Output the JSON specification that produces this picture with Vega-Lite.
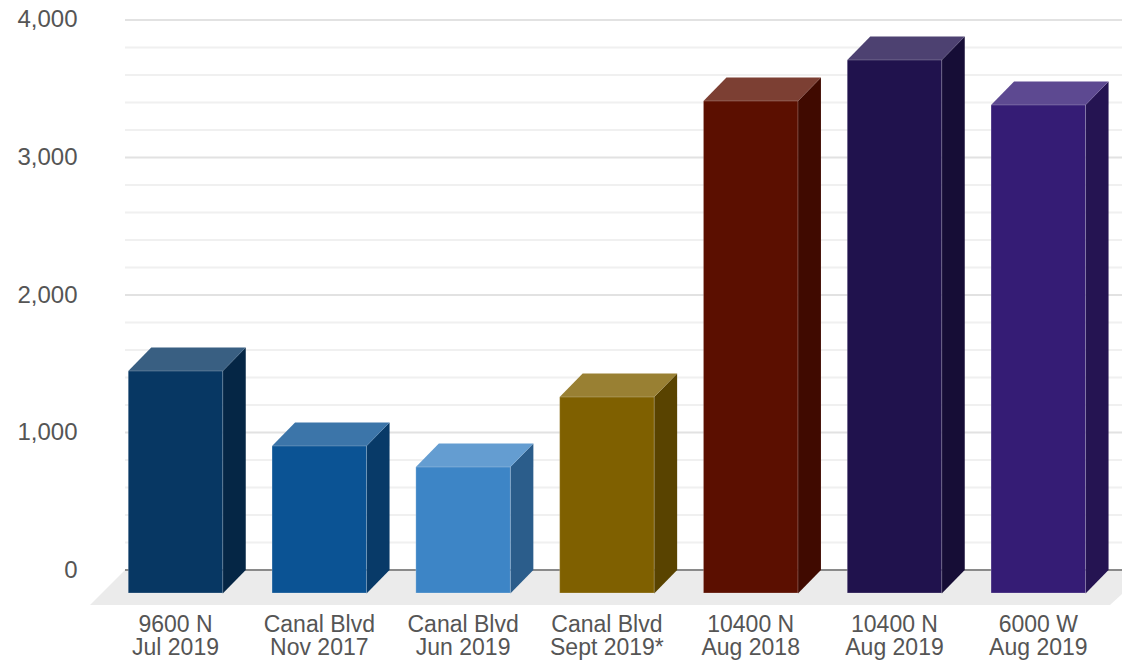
{
  "$schema": "https://vega.github.io/schema/vega-lite/v6.json",
  "width": 997,
  "height": 605,
  "autosize": {"type": "none"},
  "padding": {"left": 125, "top": 0, "right": 0, "bottom": 60},
  "background": "#ffffff",
  "config": {"view": {"stroke": null}, "font": "Liberation Sans"},
  "datasets": {
    "bars": [
      {"label": "9600 N|Jul 2019", "value": 1447},
      {"label": "Canal Blvd|Nov 2017", "value": 902},
      {"label": "Canal Blvd|Jun 2019", "value": 749},
      {"label": "Canal Blvd|Sept 2019*", "value": 1258},
      {"label": "10400 N|Aug 2018", "value": 3411},
      {"label": "10400 N|Aug 2019", "value": 3709},
      {"label": "6000 W|Aug 2019", "value": 3382}
    ],
    "minor": [{"tick": 200},{"tick": 400},{"tick": 600},{"tick": 800},{"tick": 1200},{"tick": 1400},{"tick": 1600},{"tick": 1800},{"tick": 2200},{"tick": 2400},{"tick": 2600},{"tick": 2800},{"tick": 3200},{"tick": 3400},{"tick": 3600},{"tick": 3800}],
    "major": [{"tick": 1000},{"tick": 2000},{"tick": 3000},{"tick": 4000}]
  },
  "layer": [
    {
      "data": {"values": [{"base": 0}]},
      "mark": {"type": "point", "filled": true, "opacity": 1, "size": 4, "color": "#ebebeb", "strokeWidth": 0, "shape": "M-85.5,35 L-50.5,0 L946.5,0 L946.5,24 L934.5,35 Z"},
      "encoding": {
        "x": {"datum": "9600 N|Jul 2019", "type": "nominal", "title": null,
          "scale": {"type": "band", "domain": ["9600 N|Jul 2019","Canal Blvd|Nov 2017","Canal Blvd|Jun 2019","Canal Blvd|Sept 2019*","10400 N|Aug 2018","10400 N|Aug 2019","6000 W|Aug 2019"], "range": [-21.4, 985.2], "paddingInner": 0, "paddingOuter": 0},
          "axis": {"domain": false, "ticks": false, "grid": false, "labelAngle": 0, "labelExpr": "split(datum.label, '|')", "labelFontSize": 23, "labelLineHeight": 23, "labelColor": "#555555", "labelPadding": 8, "labelFont": "Liberation Sans"}},
        "y": {"field": "base", "type": "quantitative", "title": null,
          "scale": {"domain": [-254.5, 4145.45], "nice": false, "zero": false},
          "axis": {"values": [0, 1000, 2000, 3000, 4000], "labelExpr": "format(datum.value, ',')", "grid": false, "domain": false, "ticks": false, "labelFontSize": 24, "labelColor": "#555555", "labelPadding": 48, "labelFont": "Liberation Sans"}}
      }
    },
    {
      "data": {"name": "minor"},
      "mark": {"type": "rule", "color": "#f0f0f0", "strokeWidth": 2},
      "encoding": {"y": {"field": "tick", "type": "quantitative", "title": null}}
    },
    {
      "data": {"name": "major"},
      "mark": {"type": "rule", "color": "#e2e2e2", "strokeWidth": 2},
      "encoding": {"y": {"field": "tick", "type": "quantitative", "title": null}}
    },
    {
      "data": {"values": [{"tick": 0}]},
      "mark": {"type": "rule", "color": "#8a8a8a", "strokeWidth": 2},
      "encoding": {"y": {"field": "tick", "type": "quantitative", "title": null}}
    },
    {
      "data": {"name": "bars"},
      "mark": {"type": "rule", "strokeWidth": 23, "xOffset": 58.75},
      "encoding": {
        "x": {"field": "label", "type": "nominal", "title": null},
        "y": {"field": "value", "type": "quantitative", "title": null},
        "y2": {"datum": 0},
        "color": {"field": "label", "type": "nominal", "legend": null, "sort": null,
          "scale": {"range": ["#052645","#083a68","#2b5d8b","#594300","#400a00","#160d36","#251452"]}}
      }
    },
    {
      "data": {"name": "bars"},
      "mark": {"type": "point", "filled": true, "opacity": 1, "size": 4, "strokeWidth": 0, "shape": "M47.25,0 L70.25,-23.5 L70.25,0 Z"},
      "encoding": {
        "x": {"field": "label", "type": "nominal", "title": null},
        "y": {"field": "value", "type": "quantitative", "title": null},
        "color": {"field": "label", "type": "nominal", "legend": null, "sort": null,
          "scale": {"range": ["#052645","#083a68","#2b5d8b","#594300","#400a00","#160d36","#251452"]}}
      }
    },
    {
      "data": {"name": "bars"},
      "mark": {"type": "point", "filled": true, "opacity": 1, "size": 4, "strokeWidth": 0, "shape": "M47.25,0 L70.25,0 L47.25,23.5 Z"},
      "encoding": {
        "x": {"field": "label", "type": "nominal", "title": null},
        "y": {"datum": 0, "type": "quantitative", "title": null},
        "color": {"field": "label", "type": "nominal", "legend": null, "sort": null,
          "scale": {"range": ["#052645","#083a68","#2b5d8b","#594300","#400a00","#160d36","#251452"]}}
      }
    },
    {
      "data": {"name": "bars"},
      "mark": {"type": "point", "filled": true, "opacity": 1, "size": 4, "strokeWidth": 0, "shape": "M-47.25,0 L-24.25,-23.5 L70.25,-23.5 L47.25,0 Z"},
      "encoding": {
        "x": {"field": "label", "type": "nominal", "title": null},
        "y": {"field": "value", "type": "quantitative", "title": null},
        "color": {"field": "label", "type": "nominal", "legend": null, "sort": null,
          "scale": {"range": ["#395f82","#3c75a9","#649dd1","#998033","#7c3f33","#4d4171","#5d4991"]}}
      }
    },
    {
      "data": {"name": "bars"},
      "mark": {"type": "bar", "width": 94.5, "stroke": "#ffffff", "strokeOpacity": 0.22, "strokeWidth": 1},
      "encoding": {
        "x": {"field": "label", "type": "nominal", "title": null},
        "y": {"field": "value", "type": "quantitative", "title": null},
        "y2": {"datum": -167},
        "color": {"field": "label", "type": "nominal", "legend": null, "sort": null,
          "scale": {"range": ["#073763","#0b5394","#3d85c6","#7f6000","#5b0f00","#20124d","#351c75"]}}
      }
    }
  ],
  "resolve": {"scale": {"color": "independent"}}
}
